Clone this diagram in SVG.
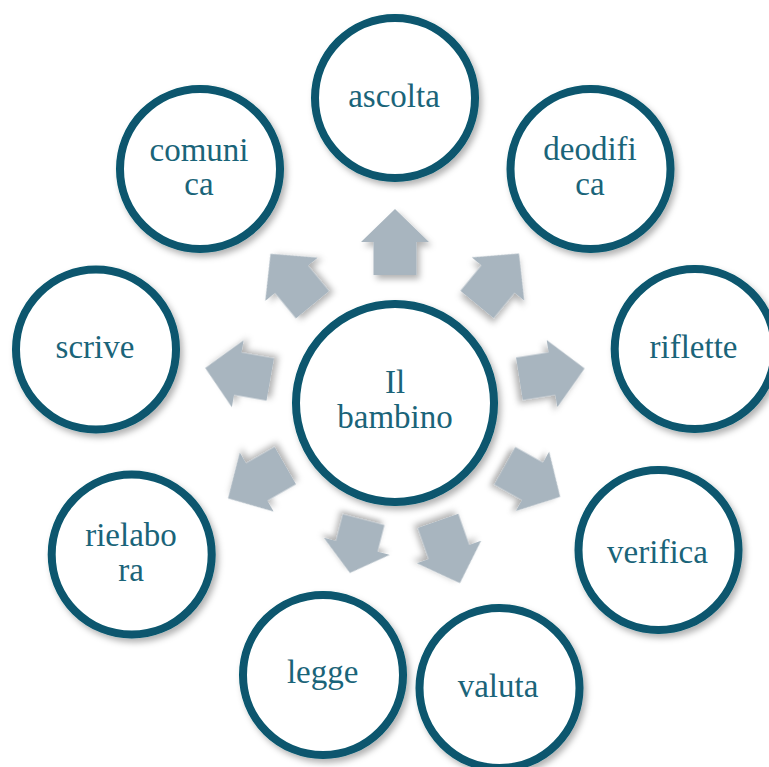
<svg xmlns="http://www.w3.org/2000/svg" xmlns:xlink="http://www.w3.org/1999/xlink" width="769" height="767" viewBox="0 0 769 767">
<defs>
<filter id="sh" x="-30%" y="-30%" width="160%" height="160%">
<feDropShadow dx="3" dy="4" stdDeviation="3" flood-color="#000" flood-opacity="0.3"/>
</filter>
<polygon id="arrow" points="0,-33 34,0 21.5,0 21.5,33 -21.5,33 -21.5,0 -34,0"/>
</defs>
<style>
.node circle{fill:#ffffff;stroke:#07576e;stroke-width:8;filter:url(#sh)}
.node text{font-family:"Liberation Serif","Times New Roman",serif;font-size:33px;fill:#1a6479;text-anchor:middle}
.conn use{fill:#a8b5bf;filter:url(#sh)}
</style>
<rect width="769" height="767" fill="#ffffff"/>
<g id="connectors" class="conn">
<use xlink:href="#arrow" href="#arrow" transform="translate(395,242) rotate(0)"/>
<use xlink:href="#arrow" href="#arrow" transform="translate(498,279) rotate(39.5)"/>
<use xlink:href="#arrow" href="#arrow" transform="translate(552,373.6) rotate(81)"/>
<use xlink:href="#arrow" href="#arrow" transform="translate(532.5,481.3) rotate(119.3) scale(1,0.96)"/>
<use xlink:href="#arrow" href="#arrow" transform="translate(449,552) rotate(160.7)"/>
<use xlink:href="#arrow" href="#arrow" transform="translate(356.8,546.3) rotate(194.5) scale(1,0.83)"/>
<use xlink:href="#arrow" href="#arrow" transform="translate(256.7,482) rotate(240.2)"/>
<use xlink:href="#arrow" href="#arrow" transform="translate(237.75,373.75) rotate(280)"/>
<use xlink:href="#arrow" href="#arrow" transform="translate(291.5,279.3) rotate(320.5)"/>
</g>
<g id="center" class="node">
<circle cx="395" cy="403" r="99"/>
<text x="395" y="393">Il</text>
<text x="395" y="428">bambino</text>
</g>
<g id="ascolta" class="node">
<circle cx="395" cy="98" r="80"/>
<text x="394" y="107">ascolta</text>
</g>
<g id="deodifica" class="node">
<circle cx="590.5" cy="169" r="80"/>
<text x="590" y="160">deodifi</text>
<text x="590" y="195">ca</text>
</g>
<g id="riflette" class="node">
<circle cx="694.7" cy="349" r="80"/>
<text x="693.5" y="358">riflette</text>
</g>
<g id="verifica" class="node">
<circle cx="658.5" cy="550" r="80"/>
<text x="657.5" y="562.5">verifica</text>
</g>
<g id="valuta" class="node">
<circle cx="499.5" cy="688" r="80"/>
<text x="498" y="697">valuta</text>
</g>
<g id="legge" class="node">
<circle cx="323" cy="675" r="80"/>
<text x="322.7" y="683">legge</text>
</g>
<g id="rielabora" class="node">
<circle cx="131.7" cy="554.5" r="80"/>
<text x="131" y="546">rielabo</text>
<text x="131" y="580.5">ra</text>
</g>
<g id="scrive" class="node">
<circle cx="96" cy="349.5" r="80"/>
<text x="95" y="358">scrive</text>
</g>
<g id="comunica" class="node">
<circle cx="200" cy="169" r="80"/>
<text x="199" y="161">comuni</text>
<text x="199" y="195">ca</text>
</g>
</svg>
